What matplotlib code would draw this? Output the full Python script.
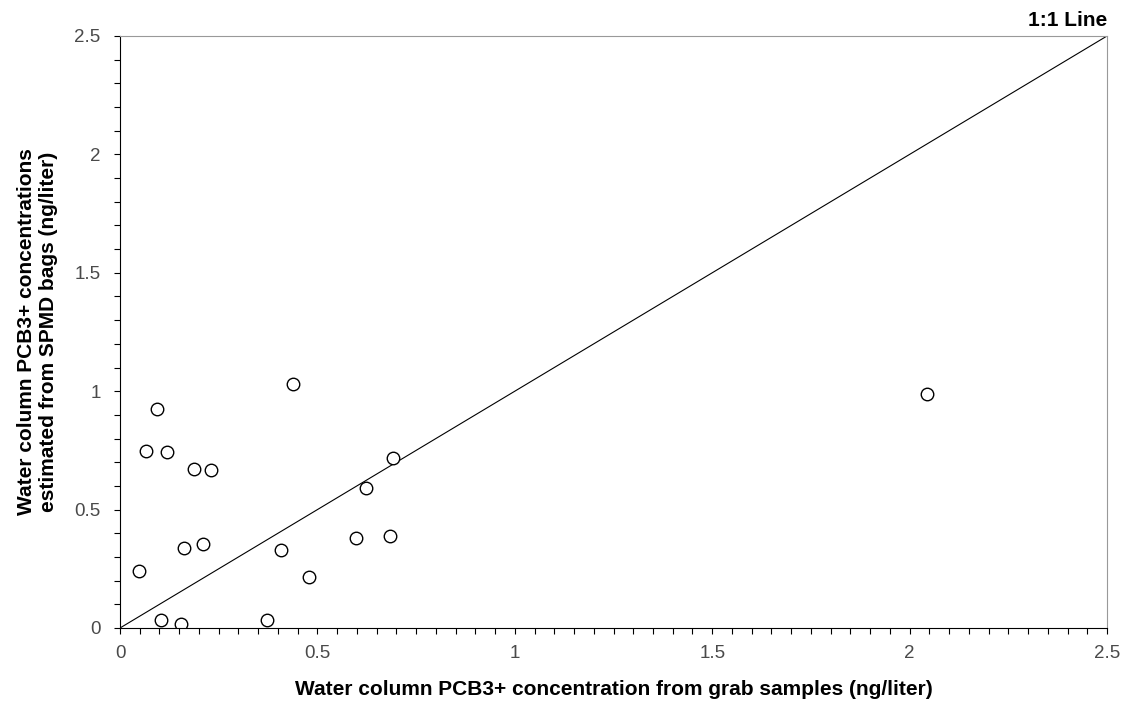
import matplotlib.pyplot as plt
from matplotlib.ticker import MultipleLocator

plt.rcParams["font.family"] = ["Liberation Sans", "DejaVu Sans"]

# grab-sample concentration vs SPMD-estimated concentration (ng/liter)
grab = [0.049, 0.066, 0.094, 0.120, 0.104, 0.155, 0.162, 0.187, 0.210, 0.230,
        0.373, 0.408, 0.437, 0.479, 0.597, 0.622, 0.684, 0.691, 2.044]
spmd = [0.241, 0.747, 0.923, 0.743, 0.032, 0.016, 0.337, 0.673, 0.353, 0.667,
        0.032, 0.331, 1.032, 0.214, 0.379, 0.593, 0.390, 0.717, 0.988]
one_to_one = [0, 2.5]

fig = plt.figure(figsize=(11.25, 7.05), dpi=100)
ax = fig.add_axes([120 / 1125, 77 / 705, 987 / 1125, 592 / 705])

ax.plot(one_to_one, one_to_one, color="black", linewidth=0.8)
ax.plot(grab, spmd, linestyle="none", marker="o", markersize=9,
        markerfacecolor="white", markeredgecolor="black", markeredgewidth=1.0)

ax.set_xlim(0, 2.5)
ax.set_ylim(0, 2.5)
ax.xaxis.set_minor_locator(MultipleLocator(0.05))
ax.yaxis.set_minor_locator(MultipleLocator(0.1))
ax.set_xticks([0, 0.5, 1, 1.5, 2, 2.5], ["0", "0.5", "1", "1.5", "2", "2.5"])
ax.set_yticks([0, 0.5, 1, 1.5, 2, 2.5], ["0", "0.5", "1", "1.5", "2", "2.5"])
ax.tick_params(which="both", direction="out", length=4, width=0.8,
               labelsize=13.5, labelcolor="#4a4a4a")
ax.tick_params(axis="x", which="both", top=False, pad=8)
ax.tick_params(axis="y", which="both", right=False, pad=10)

for side in ("top", "right"):
    ax.spines[side].set_color("#999999")
    ax.spines[side].set_linewidth(0.8)
for side in ("left", "bottom"):
    ax.spines[side].set_linewidth(0.8)

ax.set_xlabel("Water column PCB3+ concentration from grab samples (ng/liter)",
              fontsize=15, fontweight="bold", labelpad=13)
ax.set_ylabel("Water column PCB3+ concentrations\nestimated from SPMD bags (ng/liter)",
              fontsize=15, fontweight="bold", labelpad=12)

ax.text(1.0, 1.01, "1:1 Line", transform=ax.transAxes, ha="right", va="bottom",
        fontsize=15, fontweight="bold")

fig.savefig("out.png", dpi=100)
